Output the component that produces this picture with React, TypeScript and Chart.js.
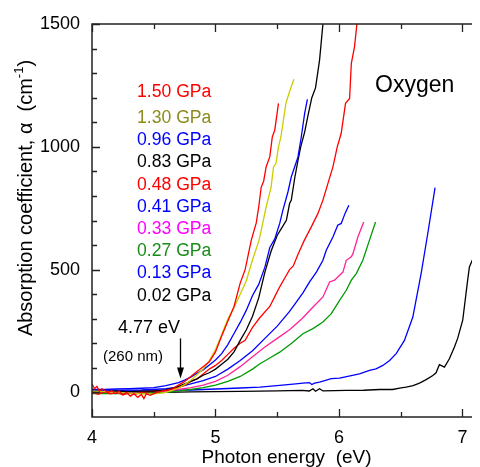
import React, { useEffect, useRef } from 'react';
import { Chart, registerables } from 'chart.js';

Chart.register(...registerables);

const FONT = '"Liberation Sans", Arial, Helvetica, sans-serif';

// ---- data (photon energy in eV, absorption coefficient in cm^-1) ----
const energy150 = [4.00,4.02,4.04,4.06,4.08,4.10,4.13,4.16,4.19,4.22,4.25,4.28,4.31,4.34,4.37,4.40,4.42,4.44,4.47,4.50,4.53,4.56,4.60,4.65,4.70,4.75,4.80,4.85,4.90,4.95,5.00,5.05,5.10,5.15,5.20,5.24,5.29,5.33,5.35,5.37,5.39,5.41,5.44,5.46,5.48,5.51];
const alpha150 = [35,15,25,5,15,10,0,8,-5,5,-10,0,-15,-5,-20,-8,-25,-5,-12,-5,0,5,8,15,30,45,65,85,105,125,165,230,290,350,445,500,620,690,755,835,860,918,960,1040,1068,1177];

const energy130 = [4.00,4.10,4.20,4.30,4.40,4.50,4.60,4.65,4.70,4.75,4.80,4.85,4.90,4.95,5.00,5.05,5.10,5.15,5.20,5.25,5.30,5.35,5.37,5.41,5.45,5.47,5.49,5.51,5.53,5.57,5.60,5.635];
const alpha130 = [5,3,0,-3,-6,-6,0,8,18,32,50,72,95,130,175,235,300,345,400,455,540,615,660,755,835,918,932,1000,1041,1177,1225,1275];

const energy096 = [4.00,4.10,4.20,4.30,4.40,4.50,4.60,4.70,4.75,4.80,4.85,4.90,4.95,5.00,5.05,5.10,5.15,5.20,5.25,5.30,5.35,5.40,5.44,5.48,5.52,5.546,5.587,5.614,5.641,5.668,5.695,5.722,5.744];
const alpha096 = [12,12,14,15,17,20,28,40,50,62,78,92,112,132,158,195,240,285,335,395,440,510,590,625,688,742,817,878,918,959,1041,1136,1193];

const energy083 = [4.00,4.10,4.20,4.30,4.40,4.50,4.60,4.70,4.75,4.80,4.85,4.90,4.95,5.00,5.05,5.10,5.15,5.20,5.25,5.30,5.35,5.40,5.45,5.50,5.533,5.574,5.60,5.614,5.641,5.668,5.69,5.722,5.75,5.78,5.81,5.843,5.87,5.88];
const alpha083 = [5,3,5,3,5,5,10,25,35,45,55,70,80,95,115,135,165,212,255,310,385,490,575,640,667,701,769,783,871,945,1000,1060,1130,1200,1240,1354,1500,1560];

const energy048 = [4.00,4.05,4.10,4.15,4.20,4.25,4.30,4.35,4.40,4.50,4.60,4.70,4.75,4.80,4.85,4.90,4.95,5.00,5.05,5.10,5.15,5.20,5.24,5.30,5.36,5.44,5.48,5.52,5.56,5.60,5.63,5.67,5.72,5.776,5.829,5.87,5.91,5.951,5.986,6.018,6.053,6.086,6.10,6.126,6.145,6.155];
const alpha048 = [0,-8,2,-6,0,-10,-3,-8,0,5,8,20,30,45,55,75,95,110,130,155,180,200,212,265,305,350,390,430,465,500,515,565,620,674,728,783,850,918,1000,1055,1177,1197,1340,1408,1500,1540];

const energy041 = [4.00,4.20,4.40,4.60,4.70,4.80,4.90,5.00,5.10,5.20,5.30,5.40,5.50,5.60,5.65,5.708,5.762,5.817,5.87,5.897,5.951,5.99,6.018,6.05,6.08];
const alpha041 = [10,8,10,15,22,35,48,65,95,130,170,220,270,330,365,405,450,490,538,579,633,681,688,730,762];

const energy033 = [4.00,4.20,4.40,4.60,4.70,4.80,4.90,5.00,5.10,5.20,5.30,5.40,5.50,5.60,5.70,5.79,5.87,5.924,5.964,6.032,6.059,6.10,6.113,6.153,6.20];
const alpha033 = [0,0,3,5,12,20,30,45,70,105,145,185,220,255,300,348,389,450,457,490,538,552,565,633,694];

const energy027 = [4.00,4.20,4.40,4.60,4.70,4.80,4.90,5.00,5.10,5.20,5.30,5.36,5.44,5.52,5.614,5.708,5.789,5.87,5.938,6.005,6.059,6.10,6.14,6.193,6.247,6.296];
const alpha027 = [-5,-5,-3,0,5,12,20,30,45,65,95,117,140,164,199,239,260,287,321,375,416,457,484,538,620,694];

const energy013 = [4.00,4.20,4.40,4.60,4.80,5.00,5.20,5.36,5.52,5.65,5.708,5.76,5.78,5.803,5.843,5.938,6.005,6.08,6.166,6.247,6.30,6.355,6.41,6.463,6.53,6.598,6.665,6.719,6.778];
const alpha013 = [3,3,5,8,10,14,18,22,29,35,38,40,32,38,42,56,58,66,76,90,96,110,130,158,212,307,484,647,834];

const energy002 = [4.00,4.20,4.40,4.60,4.80,5.00,5.20,5.36,5.50,5.70,5.76,5.789,5.81,5.843,5.87,6.06,6.20,6.33,6.435,6.49,6.544,6.60,6.652,6.706,6.76,6.786,6.813,6.854,6.894,6.935,6.961,7.002,7.042,7.056,7.09,7.123,7.16];
const alpha002 = [-2,-3,-2,0,2,3,4,5,6,8,6,15,5,15,6,8,9,12,12,18,22,28,38,52,69,80,113,103,137,185,220,294,457,511,550,592,660];

const seriesLabels = ['1.50 GPa','1.30 GPa','0.96 GPa','0.83 GPa','0.48 GPa','0.41 GPa','0.33 GPa','0.27 GPa','0.13 GPa','0.02 GPa'];
const seriesEnergy = [energy150, energy130, energy096, energy083, energy048, energy041, energy033, energy027, energy013, energy002];
const seriesAlpha = [alpha150, alpha130, alpha096, alpha083, alpha048, alpha041, alpha033, alpha027, alpha013, alpha002];
const lineColors = ['#ff0000','#cccc00','#0000ff','#000000','#ff0000','#0000ff','#ff2299','#009900','#0000ff','#000000'];
const textColors = ['#ff0000','#8c8c1e','#0000ff','#000000','#ff0000','#0000ff','#ff00ff','#1a8c1a','#0000ff','#000000'];

const xTickValues = [4, 5, 6, 7];
const yTickValues = [0, 500, 1000, 1500];
const xMinorStep = 0.5;
const yMinorStep = 100;

const arrowEnergy = 4.71;
const arrowFrom = 220;
const arrowTo = 57;

const decorPlugin = {
  id: 'decor',
  afterDraw(chart: any) {
    const { ctx, chartArea: a, scales } = chart;
    const xs = scales.x, ys = scales.y;
    ctx.save();
    // frame
    ctx.strokeStyle = '#222';
    ctx.lineWidth = 1.5;
    ctx.strokeRect(a.left, a.top, a.right - a.left, a.bottom - a.top);
    // ticks
    ctx.lineWidth = 1.3;
    ctx.beginPath();
    for (let v = xs.min; v <= xs.max + 1e-9; v += xMinorStep) {
      const major = Math.abs(v - Math.round(v)) < 1e-6;
      const len = major ? 8 : 5;
      const px = Math.round(xs.getPixelForValue(v)) + 0.5;
      ctx.moveTo(px, a.bottom); ctx.lineTo(px, a.bottom - len);
      ctx.moveTo(px, a.top); ctx.lineTo(px, a.top + len);
    }
    for (let v = 0; v <= ys.max + 1e-9; v += yMinorStep) {
      const major = v % 500 === 0;
      const len = major ? 8 : 5;
      const py = Math.round(ys.getPixelForValue(v)) + 0.5;
      ctx.moveTo(a.left, py); ctx.lineTo(a.left + len, py);
      ctx.moveTo(a.right, py); ctx.lineTo(a.right - len, py);
    }
    ctx.stroke();

    // legend-like labels
    ctx.textAlign = 'left';
    ctx.textBaseline = 'alphabetic';
    ctx.font = `17.6px ${FONT}`;
    seriesLabels.forEach((t, i) => {
      const y = i === 0 ? 89 : 115 + (i - 1) * 22.2;
      ctx.fillStyle = textColors[i];
      ctx.fillText(t, 129, y);
    });

    // Oxygen
    ctx.fillStyle = '#000';
    ctx.font = `23px ${FONT}`;
    ctx.fillText('Oxygen', 367, 84);

    // annotation
    ctx.font = `18px ${FONT}`;
    ctx.fillText('4.77 eV', 110, 325);
    ctx.font = `15px ${FONT}`;
    ctx.fillText('(260 nm)', 95, 353);

    // arrow
    const ax = Math.round(xs.getPixelForValue(arrowEnergy)) + 0.5;
    const y1 = ys.getPixelForValue(arrowFrom);
    const y2 = ys.getPixelForValue(arrowTo);
    ctx.strokeStyle = '#000';
    ctx.lineWidth = 1.3;
    ctx.beginPath();
    ctx.moveTo(ax, y1); ctx.lineTo(ax, y2 - 8);
    ctx.stroke();
    ctx.beginPath();
    ctx.moveTo(ax - 3.5, y2 - 11);
    ctx.lineTo(ax + 3.5, y2 - 11);
    ctx.lineTo(ax, y2);
    ctx.closePath();
    ctx.fillStyle = '#000';
    ctx.fill();

    // y axis title with superscript
    ctx.save();
    ctx.translate(18, 190);
    ctx.rotate(-Math.PI / 2);
    const main = 'Absorption coefficient, \u03b1  (cm';
    const sup = '-1';
    const tail = ')';
    ctx.font = `20px ${FONT}`;
    const wMain = ctx.measureText(main).width;
    const wTail = ctx.measureText(tail).width;
    ctx.font = `13px ${FONT}`;
    const wSup = ctx.measureText(sup).width;
    const total = wMain + wSup + wTail;
    let x0 = -total / 2;
    ctx.textBaseline = 'middle';
    ctx.fillStyle = '#000';
    ctx.font = `20px ${FONT}`;
    ctx.fillText(main, x0, 0);
    x0 += wMain;
    ctx.font = `13px ${FONT}`;
    ctx.fillText(sup, x0, -7);
    x0 += wSup;
    ctx.font = `20px ${FONT}`;
    ctx.fillText(tail, x0, 0);
    ctx.restore();

    ctx.restore();
  },
};

export default function App() {
  const ref = useRef<HTMLCanvasElement | null>(null);
  useEffect(() => {
    if (!ref.current) return;
    const datasets = seriesLabels.map((label, i) => ({
      label,
      data: seriesEnergy[i].map((x, j) => ({ x, y: seriesAlpha[i][j] })),
      borderColor: lineColors[i],
      backgroundColor: lineColors[i],
      borderWidth: 1.3,
      pointRadius: 0,
      showLine: true,
      tension: 0,
      fill: false,
    }));
    const chart = new Chart(ref.current, {
      type: 'scatter',
      data: { datasets },
      options: {
        animation: false,
        responsive: false,
        maintainAspectRatio: false,
        layout: { padding: { top: 16, right: 17, left: 0, bottom: 0 } },
        plugins: { legend: { display: false }, tooltip: { enabled: false } },
        scales: {
          x: {
            type: 'linear',
            min: 4,
            max: 7.15,
            grid: { display: false, drawTicks: false },
            border: { display: false },
            afterBuildTicks: (s: any) => { s.ticks = xTickValues.map((v) => ({ value: v })); },
            afterFit: (s: any) => { s.height = 50; s.paddingLeft = 0; s.paddingRight = 0; },
            ticks: {
              color: '#000',
              padding: 10,
              maxRotation: 0,
              font: { family: FONT, size: 18 },
              callback: (v: any) => String(v),
            },
            title: {
              display: true,
              text: 'Photon energy  (eV)',
              color: '#000',
              font: { family: FONT, size: 19, lineHeight: 1 },
              padding: { top: 0, bottom: 0 },
            },
          },
          y: {
            type: 'linear',
            min: -100,
            max: 1500,
            grid: { display: false, drawTicks: false },
            border: { display: false },
            afterBuildTicks: (s: any) => { s.ticks = yTickValues.map((v) => ({ value: v })); },
            afterFit: (s: any) => { s.width = 84; s.paddingTop = 0; s.paddingBottom = 0; },
            ticks: {
              color: '#000',
              padding: 12,
              font: { family: FONT, size: 18 },
              callback: (v: any) => String(v),
            },
          },
        },
      },
      plugins: [decorPlugin],
    });
    return () => chart.destroy();
  }, []);
  return (
    <div style={{ width: 472, height: 459, overflow: 'hidden', position: 'relative' }}>
      <canvas ref={ref} width={490} height={459} style={{ display: 'block', width: 490, height: 459 }} />
    </div>
  );
}
